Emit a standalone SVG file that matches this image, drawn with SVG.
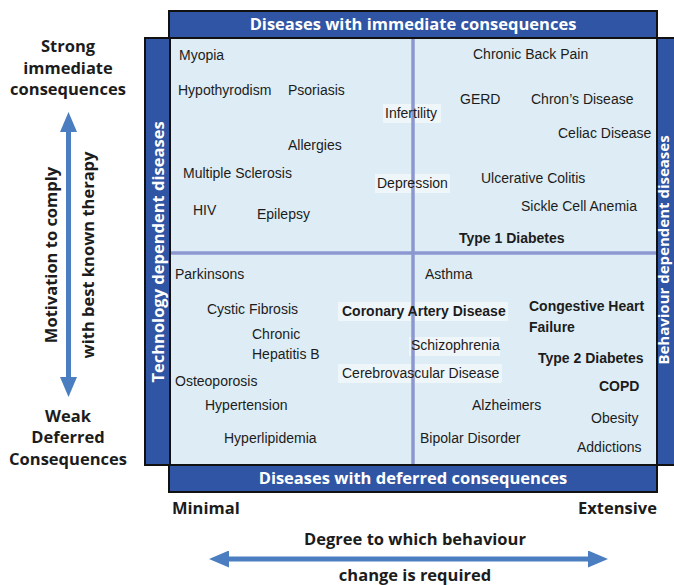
<svg xmlns="http://www.w3.org/2000/svg" width="674" height="585" viewBox="0 0 674 585">
<style>
.banner{fill:#2f55a4;stroke:#111;stroke-width:2}
.btxt{font-family:"Open Sans","Noto Sans",sans-serif;font-weight:700;font-size:16.5px;fill:#fff;text-anchor:middle}
.ax{font-family:"Open Sans","Noto Sans",sans-serif;font-weight:700;font-size:16.5px;fill:#1c1c1c;text-anchor:middle}
.d{font-family:"Liberation Sans",Arial,sans-serif;font-size:14px;fill:#1c1c1c}
.db{font-family:"Liberation Sans",Arial,sans-serif;font-size:14px;font-weight:700;fill:#1c1c1c}
.hl{fill:#ffffff;fill-opacity:0.5}
.div{stroke:#8c97d0;stroke-width:3.5}
.arr{stroke:#4a7ec0;stroke-width:5;fill:none;marker-start:url(#ah);marker-end:url(#ah)}
</style>
<defs>
<marker id="ah" markerUnits="userSpaceOnUse" markerWidth="20" markerHeight="17" refX="10" refY="8.5" orient="auto-start-reverse">
<path d="M0,0 L20,8.5 L0,17 Z" fill="#4a7ec0"/>
</marker>
</defs>
<rect width="674" height="585" fill="#ffffff"/>

<g id="frame">
<rect x="170" y="38" width="487" height="427" fill="#deedf5" stroke="#111" stroke-width="1.5"/>
</g>

<g id="box-infertility"><rect class="hl" x="383" y="104" width="58" height="19"/></g>
<g id="box-depression"><rect class="hl" x="375" y="174" width="75" height="19"/></g>
<g id="box-coronary"><rect class="hl" x="338" y="302" width="170" height="19"/></g>
<g id="box-schizo"><rect class="hl" x="409" y="337" width="91" height="19"/></g>
<g id="box-cerebro"><rect class="hl" x="338" y="364" width="164" height="19"/></g>

<g id="dividers">
<line class="div" x1="413" y1="39" x2="413" y2="464"/>
<line class="div" x1="171" y1="253" x2="656" y2="253"/>
</g>

<g id="banner-top"><rect class="banner" x="169" y="11" width="488" height="27"/><text class="btxt" x="413" y="30">Diseases with immediate consequences</text></g>
<g id="banner-bottom"><rect class="banner" x="169" y="465" width="488" height="27"/><text class="btxt" x="413" y="484">Diseases with deferred consequences</text></g>
<g id="banner-left"><rect class="banner" x="145" y="38" width="25" height="427"/><text class="btxt" transform="translate(164,252) rotate(-90)">Technology dependent diseases</text></g>
<g id="banner-right"><rect class="banner" x="657" y="38" width="20" height="427"/><text class="btxt" style="font-size:15px" transform="translate(669,250) rotate(-90)">Behaviour dependent diseases</text></g>

<g id="tl">
<g id="myopia"><text class="d" x="179" y="60">Myopia</text></g>
<g id="hypothyrodism"><text class="d" x="178" y="95">Hypothyrodism</text></g>
<g id="psoriasis"><text class="d" x="288" y="95">Psoriasis</text></g>
<g id="infertility"><text class="d" x="385" y="118">Infertility</text></g>
<g id="allergies"><text class="d" x="288" y="150">Allergies</text></g>
<g id="ms"><text class="d" x="183" y="178">Multiple Sclerosis</text></g>
<g id="depression"><text class="d" x="377" y="188">Depression</text></g>
<g id="hiv"><text class="d" x="193" y="215">HIV</text></g>
<g id="epilepsy"><text class="d" x="257" y="219">Epilepsy</text></g>
</g>
<g id="tr">
<g id="backpain"><text class="d" x="473" y="59">Chronic Back Pain</text></g>
<g id="gerd"><text class="d" x="460" y="104">GERD</text></g>
<g id="chrons"><text class="d" x="531" y="104">Chron’s Disease</text></g>
<g id="celiac"><text class="d" x="558" y="138">Celiac Disease</text></g>
<g id="colitis"><text class="d" x="481" y="183">Ulcerative Colitis</text></g>
<g id="sickle"><text class="d" x="521" y="211">Sickle Cell Anemia</text></g>
<g id="t1d"><text class="db" x="459" y="243">Type 1 Diabetes</text></g>
</g>
<g id="bl">
<g id="parkinsons"><text class="d" x="175" y="279">Parkinsons</text></g>
<g id="cf"><text class="d" x="207" y="314">Cystic Fibrosis</text></g>
<g id="hepb"><text class="d" x="252" y="339">Chronic</text><text class="d" x="252" y="359">Hepatitis B</text></g>
<g id="osteo"><text class="d" x="175" y="386">Osteoporosis</text></g>
<g id="hypertension"><text class="d" x="205" y="410">Hypertension</text></g>
<g id="hyperlipidemia"><text class="d" x="224" y="443">Hyperlipidemia</text></g>
<g id="coronary"><text class="db" x="342" y="316">Coronary Artery Disease</text></g>
<g id="cerebro"><text class="d" x="342" y="378">Cerebrovascular Disease</text></g>
</g>
<g id="br">
<g id="asthma"><text class="d" x="425" y="279">Asthma</text></g>
<g id="chf"><text class="db" x="529" y="311">Congestive Heart</text><text class="db" x="529" y="332">Failure</text></g>
<g id="schizo"><text class="d" x="411" y="350">Schizophrenia</text></g>
<g id="t2d"><text class="db" x="538" y="363">Type 2 Diabetes</text></g>
<g id="copd"><text class="db" x="599" y="391">COPD</text></g>
<g id="alz"><text class="d" x="472" y="410">Alzheimers</text></g>
<g id="obesity"><text class="d" x="591" y="423">Obesity</text></g>
<g id="bipolar"><text class="d" x="420" y="443">Bipolar Disorder</text></g>
<g id="addictions"><text class="d" x="577" y="452">Addictions</text></g>
</g>

<g id="axis-y-top"><text class="ax" x="68" y="52">Strong</text><text class="ax" x="68" y="74">immediate</text><text class="ax" x="68" y="95">consequences</text></g>
<g id="axis-y-bottom"><text class="ax" x="68" y="422">Weak</text><text class="ax" x="68" y="443">Deferred</text><text class="ax" x="68" y="465">Consequences</text></g>
<g id="axis-y-label"><text class="ax" transform="translate(57,255) rotate(-90)">Motivation to comply</text><text class="ax" transform="translate(94,255) rotate(-90)">with best known therapy</text></g>
<g id="axis-x-ends"><text class="ax" x="172" y="514" style="text-anchor:start">Minimal</text><text class="ax" x="657" y="514" style="text-anchor:end">Extensive</text></g>
<g id="axis-x-label"><text class="ax" x="415" y="545">Degree to which behaviour</text><text class="ax" x="415" y="581">change is required</text></g>

<g id="connectors">
<line class="arr" x1="68.5" y1="122" x2="68.5" y2="387"/>
<line class="arr" x1="219" y1="559" x2="598" y2="559"/>
</g>
</svg>
